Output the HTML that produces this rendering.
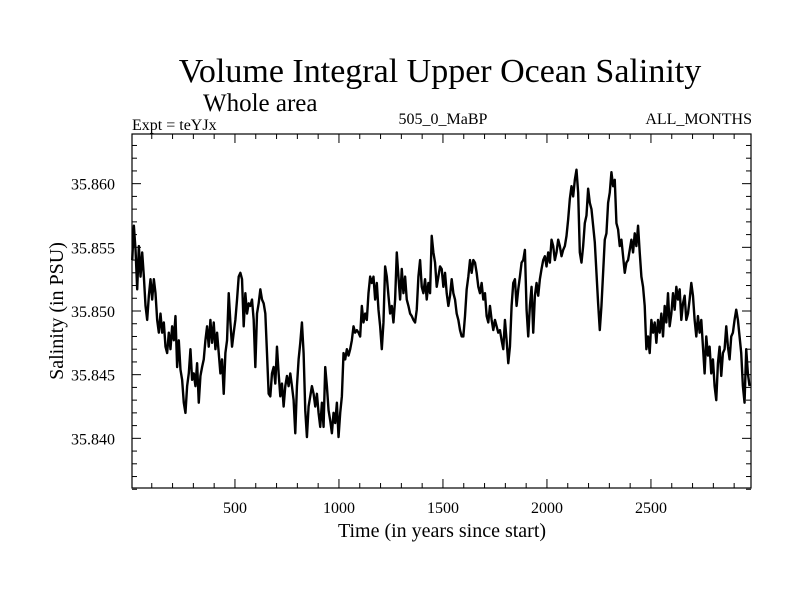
<!DOCTYPE html>
<html><head><meta charset="utf-8"><style>
html,body{margin:0;padding:0;background:#fff;}
svg text{font-family:"Liberation Serif",serif;fill:#000;}
</style></head><body>
<svg id="chart" width="800" height="600" viewBox="0 0 800 600" xmlns="http://www.w3.org/2000/svg">
<rect x="0" y="0" width="800" height="600" fill="#fff"/>
<text x="440" y="82" font-size="34" text-anchor="middle">Volume Integral Upper Ocean Salinity</text>
<text x="203" y="111" font-size="25">Whole area</text>
<text x="132" y="130" font-size="16">Expt = teYJx</text>
<text x="443" y="124" font-size="16" text-anchor="middle">505_0_MaBP</text>
<text x="752" y="124" font-size="16" text-anchor="end">ALL_MONTHS</text>
<text x="0" y="0" font-size="20" text-anchor="middle" transform="translate(63,311) rotate(-90)">Salinity (in PSU)</text>
<text x="442" y="537" font-size="20" text-anchor="middle">Time (in years since start)</text>
<g id="axes"></g>
<g id="series"></g>
<rect x="132" y="134" width="619" height="354" fill="none" stroke="#000" stroke-width="1.2"/>
</svg>
<script>
const startYear = 6;
const stepYears = 8;
const baseSalinity = 35.840;
// salinity above 35.840 PSU, in thousandths of PSU
const salinityAnomaly = [
14.0,16.7,14.8,11.7,15.1,12.7,14.6,12.7,10.4,9.3,11.2,12.5,10.9,12.5,11.4,9.3,8.3,9.8,8.3,9.1,7.2,6.7,8.3,7.0,8.8,7.7,9.6,5.6,7.7,5.4,4.6,2.8,2.0,4.1,5.1,7.0,4.6,5.1,4.1,5.9,2.8,4.9,5.6,6.2,7.7,8.8,7.2,9.3,7.5,9.1,7.0,8.3,6.7,5.1,6.2,3.5,6.7,7.7,11.4,9.1,7.2,8.3,9.3,10.9,12.7,13.0,12.5,8.8,11.4,9.8,10.6,10.4,10.9,9.3,5.6,9.8,10.6,11.7,10.9,10.6,9.8,6.7,3.5,3.3,5.1,5.6,4.3,7.2,5.1,3.3,4.3,2.5,4.1,4.9,4.1,5.1,4.1,3.0,0.4,4.1,6.2,7.5,9.1,6.7,2.2,0.1,2.5,3.3,4.1,3.5,2.5,3.5,2.0,0.9,2.8,0.9,5.6,4.1,2.2,1.4,0.4,2.0,1.2,2.8,0.1,2.0,3.3,6.7,6.2,7.0,6.5,7.0,7.7,8.8,8.3,8.5,8.3,8.0,10.4,9.1,9.8,9.3,11.4,12.7,12.2,12.7,10.9,12.2,10.1,8.8,7.0,9.1,13.5,12.7,11.2,9.8,10.4,9.1,10.9,14.6,12.7,
10.9,13.3,11.4,12.7,10.9,10.4,9.8,9.6,9.3,9.1,10.1,12.7,14.0,11.9,11.4,12.5,10.9,12.2,11.4,15.9,14.6,13.8,11.9,12.7,13.5,13.3,11.9,13.0,11.4,10.4,11.2,12.5,11.4,10.9,9.8,9.3,8.5,8.0,8.0,9.6,11.7,12.7,14.0,13.0,14.0,13.8,13.0,11.9,11.4,12.2,10.9,11.4,9.6,9.1,10.4,9.3,8.5,9.3,8.8,8.3,8.5,7.7,7.0,9.3,7.7,5.9,7.2,10.4,12.2,12.5,10.4,11.7,12.7,13.8,14.0,14.8,10.1,8.0,10.4,11.9,8.3,11.2,12.2,11.2,12.5,13.3,14.0,14.3,13.5,14.6,13.8,15.6,15.1,14.0,14.6,15.6,15.1,14.3,14.8,15.1,15.9,17.2,18.8,19.8,19.0,20.3,21.1,19.3,14.6,13.8,15.1,16.9,17.5,19.6,18.5,18.0,16.7,15.4,13.0,10.6,8.5,10.4,13.0,15.6,16.1,18.5,19.3,20.9,19.8,20.3,16.9,16.4,15.1,15.6,14.3,13.0,13.8,14.0,14.8,15.6,14.6,16.1,15.1,16.7,14.6,12.7,11.9,10.4,7.0,8.0,6.7,9.3,8.3,9.1,7.5,9.3,8.3,9.8,8.0,10.4,9.1,11.4,8.8,9.8,11.4,10.1,11.9,10.9,11.7,9.3,10.6,11.2,9.3,9.8,10.9,12.2,11.2,9.3,8.0,9.6,8.3,9.3,7.2,5.1,8.0,6.5,7.2,5.1,6.2,4.1,3.0,5.9,7.2,4.9,6.7,7.0,8.8,7.2,6.2,8.0,8.3,9.3,10.1,9.3,8.0,6.7,4.1,2.8,7.0,5.1,4.1
];
const yTickValues = [35.840, 35.845, 35.850, 35.855, 35.860];
const yTickLabels = ["35.840", "35.845", "35.850", "35.855", "35.860"];
const xTickValues = [500, 1000, 1500, 2000, 2500];
const xTickLabels = ["500", "1000", "1500", "2000", "2500"];

const NS = "http://www.w3.org/2000/svg";
const L = 132, R = 751, T = 134, B = 488;
const xMin = 5, xMax = 2981, yMin = 35.8361, yMax = 35.8639;
function xs(v){ return L + (v - xMin) / (xMax - xMin) * (R - L); }
function ys(v){ return B - (v - yMin) / (yMax - yMin) * (B - T); }
function mk(tag, attrs, parent){ const e = document.createElementNS(NS, tag); for (const k in attrs) e.setAttribute(k, attrs[k]); parent.appendChild(e); return e; }

const axes = document.getElementById("axes");
for (let k = 36; k <= 63; k++) {
  const v = 35.8 + k / 1000; const y = ys(v);
  const major = (k % 5 === 0);
  const len = major ? 9 : 5;
  const t1 = mk("line", {x1: L, x2: L + len, y1: y, y2: y, stroke: "#000", "stroke-width": 1}, axes);
  
  
  const t2 = mk("line", {x1: R, x2: R - len, y1: y, y2: y, stroke: "#000", "stroke-width": 1}, axes);
  
  
}
yTickValues.forEach((v, i) => {
  const t = mk("text", {x: 115, y: ys(v) + 6, "font-size": 16, "text-anchor": "end"}, axes);
  t.textContent = yTickLabels[i];
  
  
});
for (let yr = 100; yr <= 2900; yr += 100) {
  const x = xs(yr); const major = (yr % 500 === 0); const len = major ? 9 : 5;
  const t1 = mk("line", {x1: x, x2: x, y1: B, y2: B - len, stroke: "#000", "stroke-width": 1}, axes);
  
  
  const t2 = mk("line", {x1: x, x2: x, y1: T, y2: T + len, stroke: "#000", "stroke-width": 1}, axes);
  
  
}
xTickValues.forEach((v, i) => {
  const t = mk("text", {x: xs(v), y: 513, "font-size": 16, "text-anchor": "middle"}, axes);
  t.textContent = xTickLabels[i];
  
  
});

const series = document.getElementById("series");
const pts = salinityAnomaly.map((a, i) => xs(startYear + i * stepYears).toFixed(2) + "," + ys(baseSalinity + a / 1000).toFixed(2)).join(" ");
const line = mk("polyline", {points: pts, fill: "none", stroke: "#000", "stroke-width": 2.4, "stroke-linejoin": "round"}, series);


</script>
</body></html>
